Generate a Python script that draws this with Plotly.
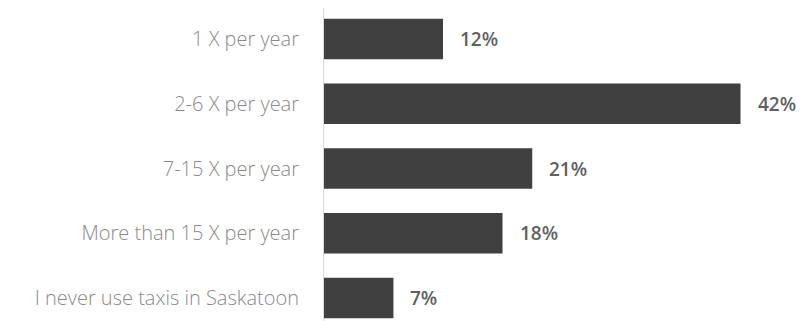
import plotly.graph_objects as go

categories = ["1 X per year", "2-6 X per year", "7-15 X per year",
              "More than 15 X per year", "I never use taxis in Saskatoon"]
values = [12, 42, 21, 18, 7]
value_labels = ["12%", "42%", "21%", "18%", "7%"]

fig = go.Figure()
fig.add_trace(go.Bar(
    x=values, y=categories, orientation="h",
    marker=dict(color="#404040", line=dict(width=0)),
    hoverinfo="skip",
))
for c, v, t in zip(categories, values, value_labels):
    fig.add_annotation(x=v, y=c, text=t, showarrow=False, xanchor="left",
                       xshift=15, font=dict(family="Open Sans", size=19,
                                            color="#5f5f5f", weight=600))

# page has an 8px body margin, so the figure is sized to fit the window
fig.update_layout(
    width=796, height=313,
    margin=dict(l=316, r=4, t=0, b=0, autoexpand=False),
    paper_bgcolor="white", plot_bgcolor="white",
    bargap=0.375, showlegend=False,
    xaxis=dict(range=[0, 48], showgrid=False, zeroline=False,
               showticklabels=False, showline=False, automargin=False),
    yaxis=dict(categoryorder="array", categoryarray=categories,
               range=[4.355, -0.479], showgrid=False, zeroline=False,
               showline=True, linecolor="#dcdcdc", linewidth=1,
               ticks="", ticklabelstandoff=20, automargin=False,
               tickfont=dict(family="Open Sans", size=20, color="#8a8a8a",
                             weight=300)),
)
fig.write_html("out.html")
